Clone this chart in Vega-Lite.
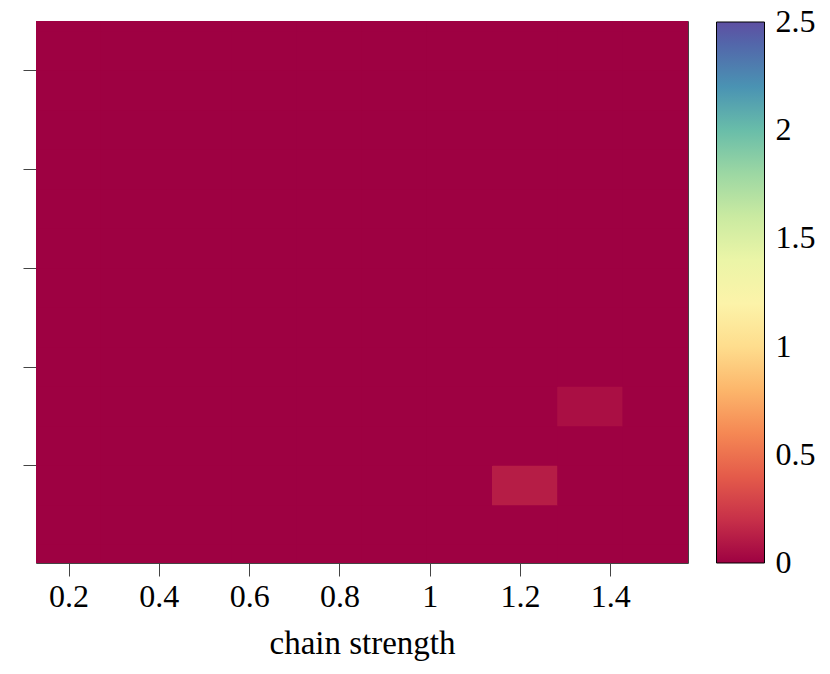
{
  "$schema": "https://vega.github.io/schema/vega-lite/v6.json",
  "autosize": "none",
  "width": 652,
  "height": 542,
  "padding": {"left": 36, "top": 21, "right": 142, "bottom": 111},
  "background": "white",
  "config": {
    "view": {"stroke": "#444444", "strokeWidth": 1},
    "font": "Liberation Serif",
    "axis": {"labelFont": "Liberation Serif", "titleFont": "Liberation Serif", "labelColor": "black", "titleColor": "black", "grid": false, "domain": false, "tickColor": "#444444", "tickWidth": 1, "tickSize": 13}
  },
  "data": {"values": [
    {"x":0.2,"y":0,"v":0},{"x":0.3444,"y":0,"v":0},{"x":0.4889,"y":0,"v":0},{"x":0.6333,"y":0,"v":0},{"x":0.7778,"y":0,"v":0},{"x":0.9222,"y":0,"v":0},{"x":1.0667,"y":0,"v":0},{"x":1.2111,"y":0,"v":0},{"x":1.3556,"y":0,"v":0},{"x":1.5,"y":0,"v":0},
    {"x":0.2,"y":0.4,"v":0},{"x":0.3444,"y":0.4,"v":0},{"x":0.4889,"y":0.4,"v":0},{"x":0.6333,"y":0.4,"v":0},{"x":0.7778,"y":0.4,"v":0},{"x":0.9222,"y":0.4,"v":0},{"x":1.0667,"y":0.4,"v":0},{"x":1.2111,"y":0.4,"v":0},{"x":1.3556,"y":0.4,"v":0},{"x":1.5,"y":0.4,"v":0},
    {"x":0.2,"y":0.8,"v":0},{"x":0.3444,"y":0.8,"v":0},{"x":0.4889,"y":0.8,"v":0},{"x":0.6333,"y":0.8,"v":0},{"x":0.7778,"y":0.8,"v":0},{"x":0.9222,"y":0.8,"v":0},{"x":1.0667,"y":0.8,"v":0},{"x":1.2111,"y":0.8,"v":0.12},{"x":1.3556,"y":0.8,"v":0},{"x":1.5,"y":0.8,"v":0},
    {"x":0.2,"y":1.2,"v":0},{"x":0.3444,"y":1.2,"v":0},{"x":0.4889,"y":1.2,"v":0},{"x":0.6333,"y":1.2,"v":0},{"x":0.7778,"y":1.2,"v":0},{"x":0.9222,"y":1.2,"v":0},{"x":1.0667,"y":1.2,"v":0},{"x":1.2111,"y":1.2,"v":0},{"x":1.3556,"y":1.2,"v":0},{"x":1.5,"y":1.2,"v":0},
    {"x":0.2,"y":1.6,"v":0},{"x":0.3444,"y":1.6,"v":0},{"x":0.4889,"y":1.6,"v":0},{"x":0.6333,"y":1.6,"v":0},{"x":0.7778,"y":1.6,"v":0},{"x":0.9222,"y":1.6,"v":0},{"x":1.0667,"y":1.6,"v":0},{"x":1.2111,"y":1.6,"v":0},{"x":1.3556,"y":1.6,"v":0.06},{"x":1.5,"y":1.6,"v":0},
    {"x":0.2,"y":2.0,"v":0},{"x":0.3444,"y":2.0,"v":0},{"x":0.4889,"y":2.0,"v":0},{"x":0.6333,"y":2.0,"v":0},{"x":0.7778,"y":2.0,"v":0},{"x":0.9222,"y":2.0,"v":0},{"x":1.0667,"y":2.0,"v":0},{"x":1.2111,"y":2.0,"v":0},{"x":1.3556,"y":2.0,"v":0},{"x":1.5,"y":2.0,"v":0},
    {"x":0.2,"y":2.4,"v":0},{"x":0.3444,"y":2.4,"v":0},{"x":0.4889,"y":2.4,"v":0},{"x":0.6333,"y":2.4,"v":0},{"x":0.7778,"y":2.4,"v":0},{"x":0.9222,"y":2.4,"v":0},{"x":1.0667,"y":2.4,"v":0},{"x":1.2111,"y":2.4,"v":0},{"x":1.3556,"y":2.4,"v":0},{"x":1.5,"y":2.4,"v":0},
    {"x":0.2,"y":2.8,"v":0},{"x":0.3444,"y":2.8,"v":0},{"x":0.4889,"y":2.8,"v":0},{"x":0.6333,"y":2.8,"v":0},{"x":0.7778,"y":2.8,"v":0},{"x":0.9222,"y":2.8,"v":0},{"x":1.0667,"y":2.8,"v":0},{"x":1.2111,"y":2.8,"v":0},{"x":1.3556,"y":2.8,"v":0},{"x":1.5,"y":2.8,"v":0},
    {"x":0.2,"y":3.2,"v":0},{"x":0.3444,"y":3.2,"v":0},{"x":0.4889,"y":3.2,"v":0},{"x":0.6333,"y":3.2,"v":0},{"x":0.7778,"y":3.2,"v":0},{"x":0.9222,"y":3.2,"v":0},{"x":1.0667,"y":3.2,"v":0},{"x":1.2111,"y":3.2,"v":0},{"x":1.3556,"y":3.2,"v":0},{"x":1.5,"y":3.2,"v":0},
    {"x":0.2,"y":3.6,"v":0},{"x":0.3444,"y":3.6,"v":0},{"x":0.4889,"y":3.6,"v":0},{"x":0.6333,"y":3.6,"v":0},{"x":0.7778,"y":3.6,"v":0},{"x":0.9222,"y":3.6,"v":0},{"x":1.0667,"y":3.6,"v":0},{"x":1.2111,"y":3.6,"v":0},{"x":1.3556,"y":3.6,"v":0},{"x":1.5,"y":3.6,"v":0},
    {"x":0.2,"y":4.0,"v":0},{"x":0.3444,"y":4.0,"v":0},{"x":0.4889,"y":4.0,"v":0},{"x":0.6333,"y":4.0,"v":0},{"x":0.7778,"y":4.0,"v":0},{"x":0.9222,"y":4.0,"v":0},{"x":1.0667,"y":4.0,"v":0},{"x":1.2111,"y":4.0,"v":0},{"x":1.3556,"y":4.0,"v":0},{"x":1.5,"y":4.0,"v":0},
    {"x":0.2,"y":4.4,"v":0},{"x":0.3444,"y":4.4,"v":0},{"x":0.4889,"y":4.4,"v":0},{"x":0.6333,"y":4.4,"v":0},{"x":0.7778,"y":4.4,"v":0},{"x":0.9222,"y":4.4,"v":0},{"x":1.0667,"y":4.4,"v":0},{"x":1.2111,"y":4.4,"v":0},{"x":1.3556,"y":4.4,"v":0},{"x":1.5,"y":4.4,"v":0},
    {"x":0.2,"y":4.8,"v":0},{"x":0.3444,"y":4.8,"v":0},{"x":0.4889,"y":4.8,"v":0},{"x":0.6333,"y":4.8,"v":0},{"x":0.7778,"y":4.8,"v":0},{"x":0.9222,"y":4.8,"v":0},{"x":1.0667,"y":4.8,"v":0},{"x":1.2111,"y":4.8,"v":0},{"x":1.3556,"y":4.8,"v":0},{"x":1.5,"y":4.8,"v":0},
    {"x":0.2,"y":5.2,"v":0},{"x":0.3444,"y":5.2,"v":0},{"x":0.4889,"y":5.2,"v":0},{"x":0.6333,"y":5.2,"v":0},{"x":0.7778,"y":5.2,"v":0},{"x":0.9222,"y":5.2,"v":0},{"x":1.0667,"y":5.2,"v":0},{"x":1.2111,"y":5.2,"v":0},{"x":1.3556,"y":5.2,"v":0},{"x":1.5,"y":5.2,"v":0},
    {"x":0.2,"y":5.6,"v":0},{"x":0.3444,"y":5.6,"v":0},{"x":0.4889,"y":5.6,"v":0},{"x":0.6333,"y":5.6,"v":0},{"x":0.7778,"y":5.6,"v":0},{"x":0.9222,"y":5.6,"v":0},{"x":1.0667,"y":5.6,"v":0},{"x":1.2111,"y":5.6,"v":0},{"x":1.3556,"y":5.6,"v":0},{"x":1.5,"y":5.6,"v":0}
  ]},
  "mark": {"type": "rect", "width": 66, "height": 40.5, "clip": true, "strokeWidth": 0},
  "encoding": {
    "x": {"field": "x", "type": "quantitative",
      "scale": {"domain": [0.1278, 1.5722], "nice": false, "zero": false},
      "axis": {"values": [0.2, 0.4, 0.6, 0.8, 1, 1.2, 1.4], "format": "~g", "title": "chain strength", "labelFontSize": 32, "titleFontSize": 33, "titleFontWeight": "normal", "labelPadding": 5, "titlePadding": 15, "labelFlush": false, "labelOverlap": false}},
    "y": {"field": "y", "type": "quantitative",
      "scale": {"domain": [0.01, 5.5], "nice": false, "zero": false},
      "axis": {"values": [1, 2, 3, 4, 5], "labels": false, "title": null}},
    "color": {"field": "v", "type": "quantitative",
      "scale": {"scheme": "spectral", "domain": [0, 2.5]},
      "legend": {"orient": "none", "legendX": 680.5, "legendY": 1, "title": null, "direction": "vertical",
        "gradientLength": 541, "gradientThickness": 48, "gradientStrokeColor": "black", "gradientStrokeWidth": 1,
        "values": [0, 0.5, 1, 1.5, 2, 2.5], "format": "~g", "labelFontSize": 32, "labelFont": "Liberation Serif", "labelColor": "black",
        "labelOffset": 11, "labelOverlap": false, "padding": 0,
        "encode": {"labels": {"enter": {"baseline": {"value": "middle"}}, "update": {"baseline": {"value": "middle"}}}}}}
  }
}
